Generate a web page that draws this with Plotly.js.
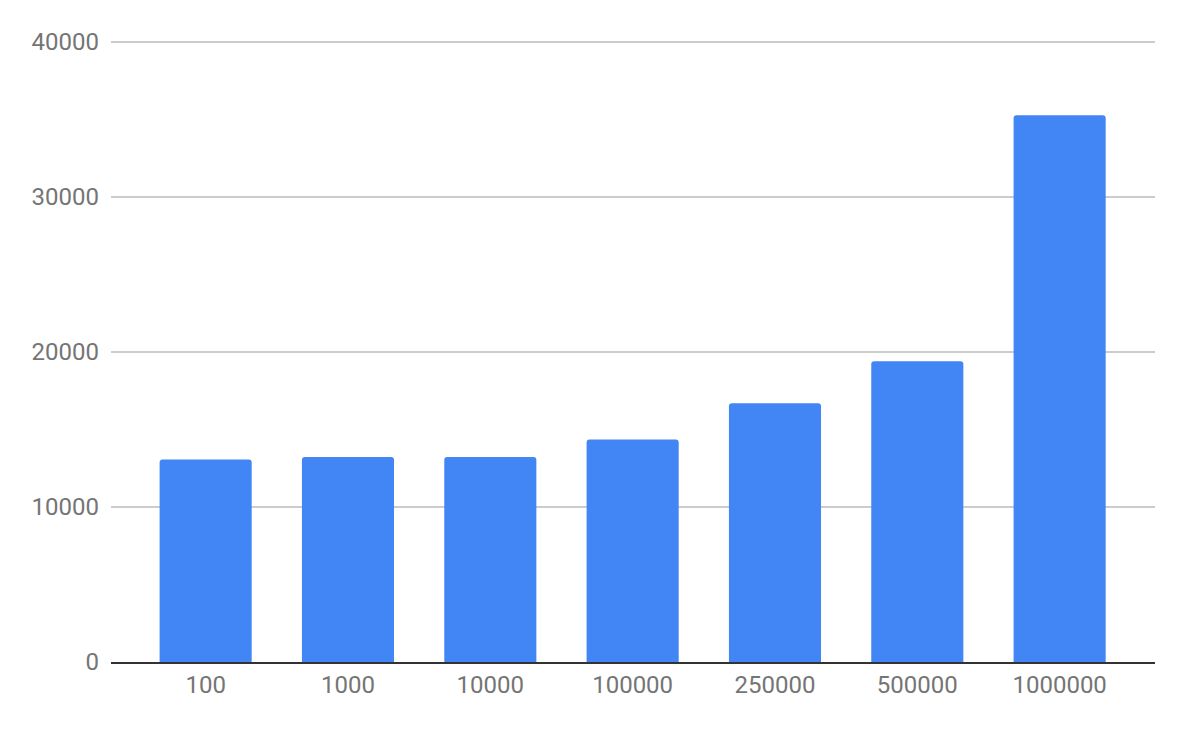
<!DOCTYPE html>
<html>
<head>
<meta charset="utf-8">
<script src="https://cdn.plot.ly/plotly-3.0.1.min.js"></script>
<style>
  html, body { margin: 0; padding: 0; background: #fff; }
  #chart { width: 1187px; height: 733px; }
</style>
</head>
<body>
<div id="chart"></div>
<script>
const categories = ['100', '1000', '10000', '100000', '250000', '500000', '1000000'];
const values = [13070, 13220, 13220, 14360, 16700, 19400, 35280];
const yTicks = [0, 10000, 20000, 30000, 40000];

const trace = {
    type: 'bar',
    x: categories,
    y: values,
    marker: { color: '#4285f4' },
    hoverinfo: 'x+y'
};

// top of range a hair above 40000 so the top gridline is drawn
const layout = {
    width: 1187,
    height: 733,
    paper_bgcolor: '#ffffff',
    plot_bgcolor: '#ffffff',
    margin: { t: 40, b: 71, l: 111, r: 32 },
    bargap: 0.353,
    barcornerradius: 3,
    showlegend: false,
    font: { family: 'Roboto, Arial, sans-serif', size: 24, color: '#757575' },
    xaxis: {
        type: 'category',
        range: [-0.665, 6.67],
        showgrid: false,
        showline: true,
        linecolor: '#333333',
        linewidth: 2,
        ticks: '',
        ticklabelstandoff: 0,
        tickfont: { size: 24, color: '#757575' },
        fixedrange: true
    },
    yaxis: {
        range: [0, 40130],
        tickvals: yTicks,
        ticktext: yTicks.map(String),
        showgrid: true,
        gridcolor: '#cccccc',
        gridwidth: 1.3,
        zeroline: false,
        showline: false,
        ticks: '',
        ticklabelstandoff: 11,
        tickfont: { size: 24, color: '#757575' },
        fixedrange: true
    }
};

Plotly.newPlot('chart', [trace], layout, { displayModeBar: false, staticPlot: true });
</script>
</body>
</html>
